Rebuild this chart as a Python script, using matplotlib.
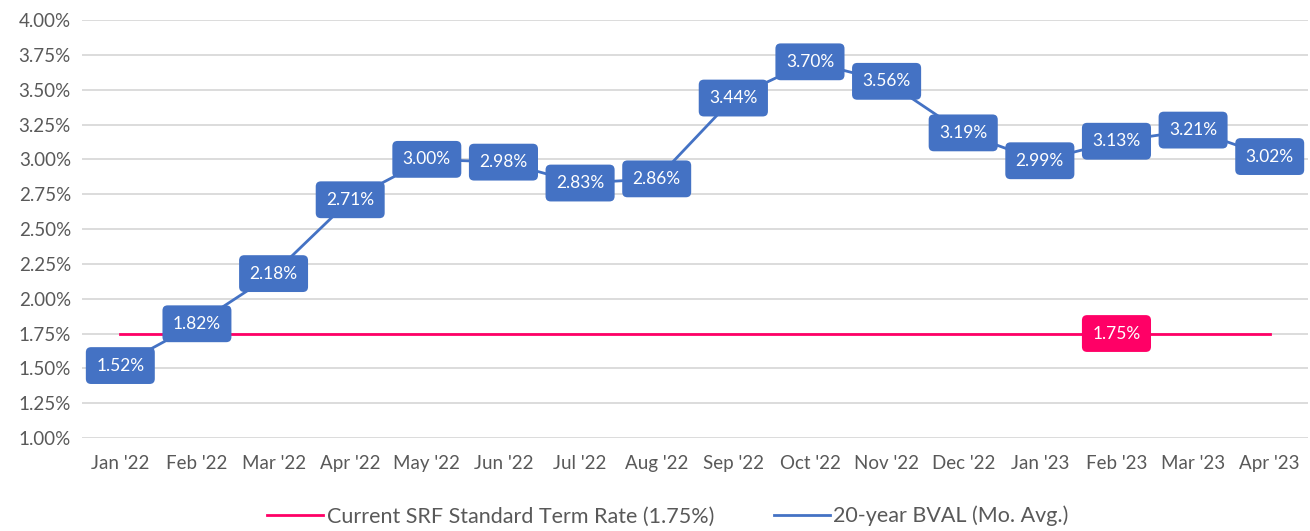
import matplotlib
matplotlib.use("Agg")
from matplotlib import pyplot as plt
from matplotlib.ticker import FuncFormatter

# chart data
months = ["Jan '22", "Feb '22", "Mar '22", "Apr '22", "May '22", "Jun '22",
          "Jul '22", "Aug '22", "Sep '22", "Oct '22", "Nov '22", "Dec '22",
          "Jan '23", "Feb '23", "Mar '23", "Apr '23"]
bval = [1.52, 1.82, 2.18, 2.71, 3.00, 2.98, 2.83, 2.86,
        3.44, 3.70, 3.56, 3.19, 2.99, 3.13, 3.21, 3.02]
srf_rate = 1.75
srf_label_idx = 13

blue = "#4472C4"
pink = "#FF0066"
grey = "#595959"

plt.rcParams['font.family'] = ['Lato', 'DejaVu Sans']

fig = plt.figure(figsize=(13.1, 5.31), dpi=100)
ax = fig.add_axes([0.0626, 0.1751, 0.9359, 0.7872])

x = list(range(len(months)))
srf = [srf_rate] * len(months)

ax.plot(x, srf, color=pink, lw=2, label="Current SRF Standard Term Rate (1.75%)", zorder=3)
ax.plot(x, bval, color=blue, lw=2, label="20-year BVAL (Mo. Avg.)", zorder=4)

# data labels
box = "round,pad=0.6,rounding_size=0.3"
for i, v in enumerate(bval):
    ax.text(i, v, "%.2f%%" % v, ha="center", va="center", color="white", fontsize=12.5,
            zorder=6, bbox=dict(boxstyle=box, fc=blue, ec="none"))
ax.text(srf_label_idx, srf_rate, "%.2f%%" % srf_rate, ha="center", va="center",
        color="white", fontsize=12.5, zorder=6,
        bbox=dict(boxstyle=box, fc=pink, ec="none"))

ax.set_xlim(-0.5, len(months) - 0.5)
ax.set_ylim(1.0, 4.0)
ax.set_yticks([1.0 + 0.25 * k for k in range(13)])
ax.yaxis.set_major_formatter(FuncFormatter(lambda v, p: "%.2f%%" % v))
ax.set_xticks(x)
ax.set_xticklabels(months)
ax.tick_params(axis="both", length=0, labelsize=13.5, colors=grey, pad=8)
ax.tick_params(axis="x", pad=12)

ax.grid(axis="y", color="#D9D9D9", lw=1.3)
ax.set_axisbelow(True)
for s in ax.spines.values():
    s.set_visible(False)

leg = fig.legend(loc="center", bbox_to_anchor=(0.51, 0.028), ncol=2, frameon=False,
                 fontsize=15.5, handlelength=2.6, columnspacing=2.8, handletextpad=0.15)
for t in leg.get_texts():
    t.set_color(grey)

fig.savefig("out.png", dpi=100)
